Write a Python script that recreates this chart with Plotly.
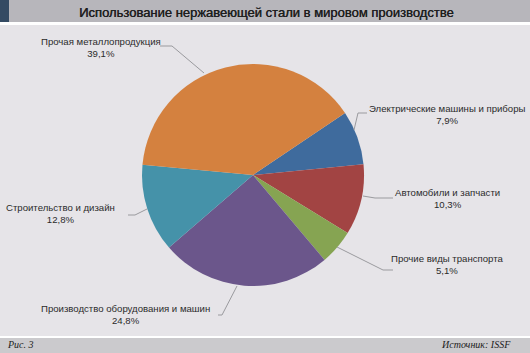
import plotly.graph_objects as go

categories = ["Электрические машины и приборы", "Автомобили и запчасти", "Прочие виды транспорта",
              "Производство оборудования и машин", "Строительство и дизайн", "Прочая металлопродукция"]
values = [7.9, 10.3, 5.1, 24.8, 12.8, 39.1]
value_labels = ["7,9%", "10,3%", "5,1%", "24,8%", "12,8%", "39,1%"]
colors = ["#3f6b9d", "#a24443", "#86a452", "#6b568b", "#4592a9", "#d4813f"]

W, H = 530, 353
fig = go.Figure(go.Pie(
    labels=categories, values=values, sort=False, direction="clockwise", rotation=56,
    marker=dict(colors=colors, line=dict(width=0)), textinfo="none", hoverinfo="label+percent",
    domain=dict(x=[142 / W, 364 / W], y=[1 - 286 / H, 1 - 64 / H]), showlegend=False,
))

def px(x):
    return x / W

def py(y):
    return 1 - y / H

shapes = [
    dict(type="rect", xref="paper", yref="paper", x0=0, x1=1, y0=py(22), y1=1, fillcolor="#b7b6bb", line_width=0, layer="below"),
    dict(type="rect", xref="paper", yref="paper", x0=0, x1=px(9), y0=py(22), y1=1, fillcolor="#344a63", line_width=0, layer="below"),
    dict(type="rect", xref="paper", yref="paper", x0=0, x1=1, y0=py(25), y1=py(22), fillcolor="#ffffff", line_width=0, layer="below"),
    dict(type="rect", xref="paper", yref="paper", x0=0, x1=1, y0=py(338), y1=py(336), fillcolor="#ffffff", line_width=0, layer="below"),
    dict(type="rect", xref="paper", yref="paper", x0=0, x1=1, y0=0, y1=py(338), fillcolor="#cbcacd", line_width=0, layer="below"),
]

# label text positions (center) and leader lines
label_pos = [(447, 115), (447, 199), (447, 264), (125, 314), (60, 213), (101, 47)]
leaders = [
    [(367, 113), (358, 113), (354, 130)],
    [(393, 198), (375, 198), (363, 196)],
    [(393, 270), (383, 270), (337, 247)],
    [(218, 315), (222, 315), (237, 286)],
    [(128, 215), (135, 215), (147, 209)],
    [(160, 46), (172, 46), (204, 73)],
]
for pts in leaders:
    path = "M " + " L ".join(f"{px(x)},{py(y)}" for x, y in pts)
    shapes.append(dict(type="path", xref="paper", yref="paper", path=path,
                       line=dict(color="#9a9a9e", width=1)))

annotations = []
for cat, lab, (x, y) in zip(categories, value_labels, label_pos):
    annotations.append(dict(x=px(x), y=py(y), xref="paper", yref="paper", showarrow=False,
                            text=f"{cat}<br>{lab}", align="center", xanchor="center", yanchor="middle",
                            font=dict(family="Liberation Sans, Arial", size=9.6, color="#2b2b2b")))

annotations += [
    dict(x=px(266), y=py(12), xref="paper", yref="paper", showarrow=False, xanchor="center", yanchor="middle",
         text="Использование нержавеющей стали в мировом производстве",
         font=dict(family="Liberation Sans, Arial", size=13, color="#1e1e1e", shadow="0.4px 0px 0px #1e1e1e")),
    dict(x=px(5), y=py(344), xref="paper", yref="paper", showarrow=False, xanchor="left", yanchor="middle",
         text="<i>Рис. 3</i>", font=dict(family="Liberation Serif, Times New Roman", size=10, color="#222222")),
    dict(x=px(513), y=py(344), xref="paper", yref="paper", showarrow=False, xanchor="right", yanchor="middle",
         text="<i>Источник: ISSF</i>", font=dict(family="Liberation Serif, Times New Roman", size=10, color="#222222")),
]

fig.update_layout(width=W, height=H, margin=dict(l=0, r=0, t=0, b=0),
                  paper_bgcolor="#e6e4e8", plot_bgcolor="#e6e4e8",
                  shapes=shapes, annotations=annotations)
fig.write_html("out.html", include_plotlyjs=True, config={"displayModeBar": False})
